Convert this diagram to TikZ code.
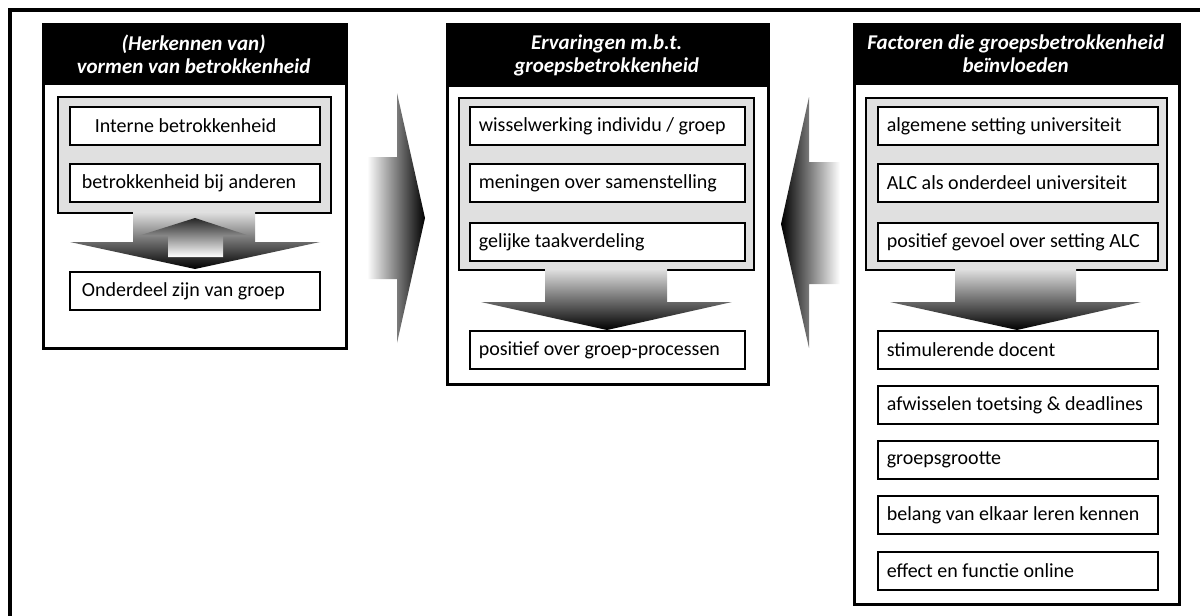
\documentclass[tikz,border=0pt]{standalone}
\usepackage{fontspec}
\setmainfont{Carlito}
\usepackage{tikz}
\usetikzlibrary{arrows}

\begin{document}
\begin{tikzpicture}[line cap=round,line join=miter,x=1pt,y=-1pt,
  panel/.style={draw,line width=3pt,fill=white,anchor=north west,inner sep=0pt},
  head/.style={fill=black,text=white,anchor=north west,inner sep=0pt,align=center,font=\fontsize{21}{23}\selectfont\bfseries\itshape},
  grp/.style={draw,line width=2pt,fill=black!12,anchor=north west,inner sep=0pt},
  item/.style={draw,line width=1.6pt,fill=white,anchor=north west,minimum height=38pt,inner xsep=9pt,inner ysep=0pt,text width=#1,align=flush left,font=\fontsize{20}{24}\selectfont}]
\useasboundingbox (0,0) rectangle (1200,616);
\draw[line width=4pt] (1200,10) -- (10,10) -- (10,616);
% left panel
\node[panel,minimum width=303,minimum height=324] (pl) at (42,23) {};
\node[head,minimum width=303,minimum height=62] (hl) at (42,23) {(Herkennen van)\\vormen van betrokkenheid};
\node[grp,minimum width=273,minimum height=116] (gl) at (57,96) {};
\node[item=232pt] (l1) at (69,106) {\hspace*{16pt}Interne betrokkenheid};
\node[item=232pt] (l2) at (69,163) {\hspace*{3pt}betrokkenheid bij anderen};
\shade[top color=black!12,bottom color=black] (133,212) -- (255,212) -- (255,242) -- (320,242) -- (195,269) -- (70,242) -- (133,242) -- cycle;
\shade[top color=black!85,bottom color=white] (138,236) -- (195,218) -- (250,236) -- (223,236) -- (223,257) -- (168,257) -- (168,236) -- cycle;
\node[item=232pt] (l3) at (69,271) {\hspace*{3pt}Onderdeel zijn van groep};
% arrow to middle
\shade[left color=white,right color=black] (367,157) -- (397,157) -- (397,93) -- (425,218) -- (397,343) -- (397,279) -- (367,279) -- cycle;
% middle panel
\node[panel,minimum width=321,minimum height=360] (pm) at (446,23) {};
\node[head,minimum width=321,minimum height=64] (hm) at (446,23) {Ervaringen m.b.t.\\groepsbetrokkenheid};
\node[grp,minimum width=295,minimum height=172] (gm) at (458,97) {};
\node[item=257pt] (m1) at (469,106) {wisselwerking individu / groep};
\node[item=257pt] (m2) at (469,163) {meningen over samenstelling};
\node[item=257pt] (m3) at (469,222) {gelijke taakverdeling};
\shade[top color=black!12,bottom color=black] (545,269) -- (667,269) -- (667,302) -- (732,302) -- (607,330) -- (481,302) -- (545,302) -- cycle;
\node[item=257pt] (m4) at (469,330) {positief over groep-processen};
% arrow from right
\shade[left color=black,right color=white] (840,162) -- (809,162) -- (809,97) -- (781,224) -- (809,348) -- (809,284) -- (840,284) -- cycle;
% right panel
\node[panel,minimum width=325,minimum height=580] (pr) at (853,23) {};
\node[head,minimum width=325,minimum height=62] (hr) at (853,23) {Factoren die groepsbetrokkenheid\\beïnvloeden};
\node[grp,minimum width=301,minimum height=172] (gr) at (865,97) {};
\node[item=262pt] (r1) at (877,106) {algemene setting universiteit};
\node[item=262pt] (r2) at (877,163) {ALC als onderdeel universiteit};
\node[item=262pt] (r3) at (877,222) {positief gevoel over setting ALC};
\shade[top color=black!12,bottom color=black] (955,269) -- (1076,269) -- (1076,302) -- (1141,302) -- (1017,330) -- (890,302) -- (955,302) -- cycle;
\node[item=262pt] (r4) at (877,330) {stimulerende docent};
\node[item=262pt] (r5) at (877,385) {afwisselen toetsing \& deadlines};
\node[item=262pt] (r6) at (877,440) {groepsgrootte};
\node[item=262pt] (r7) at (877,495) {belang van elkaar leren kennen};
\node[item=262pt] (r8) at (877,551) {effect en functie online};
\end{tikzpicture}
\end{document}
